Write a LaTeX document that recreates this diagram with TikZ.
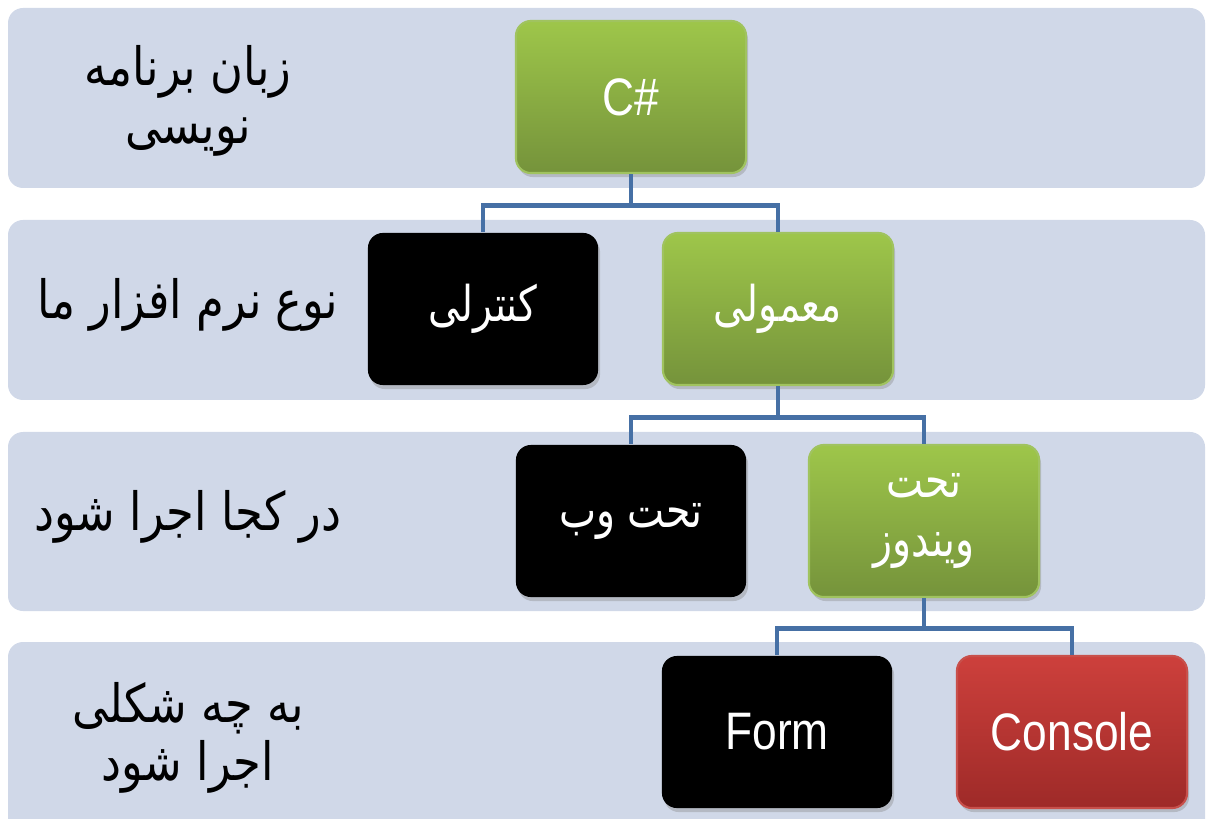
\documentclass[tikz,border=0pt]{standalone}
\usepackage{fontspec}
\usepackage{tikz}
\usetikzlibrary{shadows}
\TeXXeTstate=1
\setmainfont{Liberation Sans}
\newfontfamily\farsi[Script=Arabic, FakeStretch=0.85]{DejaVu Sans}
\newfontfamily\farsibox[Script=Arabic, FakeStretch=0.8]{DejaVu Sans}
\newfontfamily\narrow[FakeStretch=0.84]{Liberation Sans}

\definecolor{bandfill}{RGB}{208,216,232}
\definecolor{greentop}{RGB}{158,198,74}
\definecolor{greenbot}{RGB}{117,147,59}
\definecolor{greenrim}{RGB}{160,195,95}
\definecolor{redtop}{RGB}{205,64,60}
\definecolor{redbot}{RGB}{158,42,40}
\definecolor{redrim}{RGB}{200,80,75}
\definecolor{linkblue}{RGB}{70,112,165}

\tikzset{
  band/.style={fill=bandfill, rounded corners=0.15cm},
  box/.style={minimum width=2.3cm, minimum height=1.52cm, rounded corners=0.15cm,
    text=white, align=center,
    drop shadow={opacity=0.35, shadow xshift=0.02cm, shadow yshift=-0.04cm}},
  greenbox/.style={box, top color=greentop, bottom color=greenbot, draw=greenrim, line width=0.6pt},
  blackbox/.style={box, fill=black},
  redbox/.style={box, top color=redtop, bottom color=redbot, draw=redrim, line width=0.6pt},
  fabox/.style={font=\farsibox\fontsize{14}{16.5}\selectfont},
  enbox/.style={font=\narrow\fontsize{15}{19}\selectfont},
  rowlabel/.style={align=center, font=\farsi\fontsize{15}{16.5}\selectfont},
  link/.style={draw=linkblue, line width=1.4pt}
}

\begin{document}
\begin{tikzpicture}[x=0.01cm, y=-0.01cm]
  \clip (0,0) rectangle (1207,819);

  % bands
  \fill[band] (8,8) rectangle (1205,188);
  \fill[band] (8,220) rectangle (1205,400);
  \fill[band] (8,432) rectangle (1205,611);
  \fill[band] (8,642) rectangle (1205,840);

  % row labels
  \node[rowlabel] (lang) at (188,101) {\beginR زبان برنامه\endR\\\beginR نویسی\endR};
  \node[rowlabel] (kind) at (188,305) {\beginR نوع نرم افزار ما\endR};
  \node[rowlabel] (where) at (188,517) {\beginR در کجا اجرا شود\endR};
  \node[rowlabel] (how) at (188,738) {\beginR به چه شکلی\endR\\\beginR اجرا شود\endR};

  % boxes
  \node[greenbox, enbox] (csharp) at (631,97) {C\#};
  \node[blackbox, fabox] (control) at (483,309) {\beginR کنترلی\endR};
  \node[greenbox, fabox] (normal) at (778,309) {\beginR معمولی\endR};
  \node[blackbox, fabox] (web) at (631,521) {\beginR تحت وب\endR};
  \node[greenbox, fabox] (windows) at (924,521) {\beginR تحت\endR\\\beginR ویندوز\endR};
  \node[blackbox, enbox] (form) at (777,732) {Form};
  \node[redbox, enbox] (console) at (1072,732) {Console};

  % connectors
  \draw[link] (csharp.south) -- ++(0,31) -| (control.north);
  \draw[link] (csharp.south) -- ++(0,31) -| (normal.north);
  \draw[link] (normal.south) -- ++(0,31) -| (web.north);
  \draw[link] (normal.south) -- ++(0,31) -| (windows.north);
  \draw[link] (windows.south) -- ++(0,30) -| (form.north);
  \draw[link] (windows.south) -- ++(0,30) -| (console.north);
\end{tikzpicture}
\end{document}
